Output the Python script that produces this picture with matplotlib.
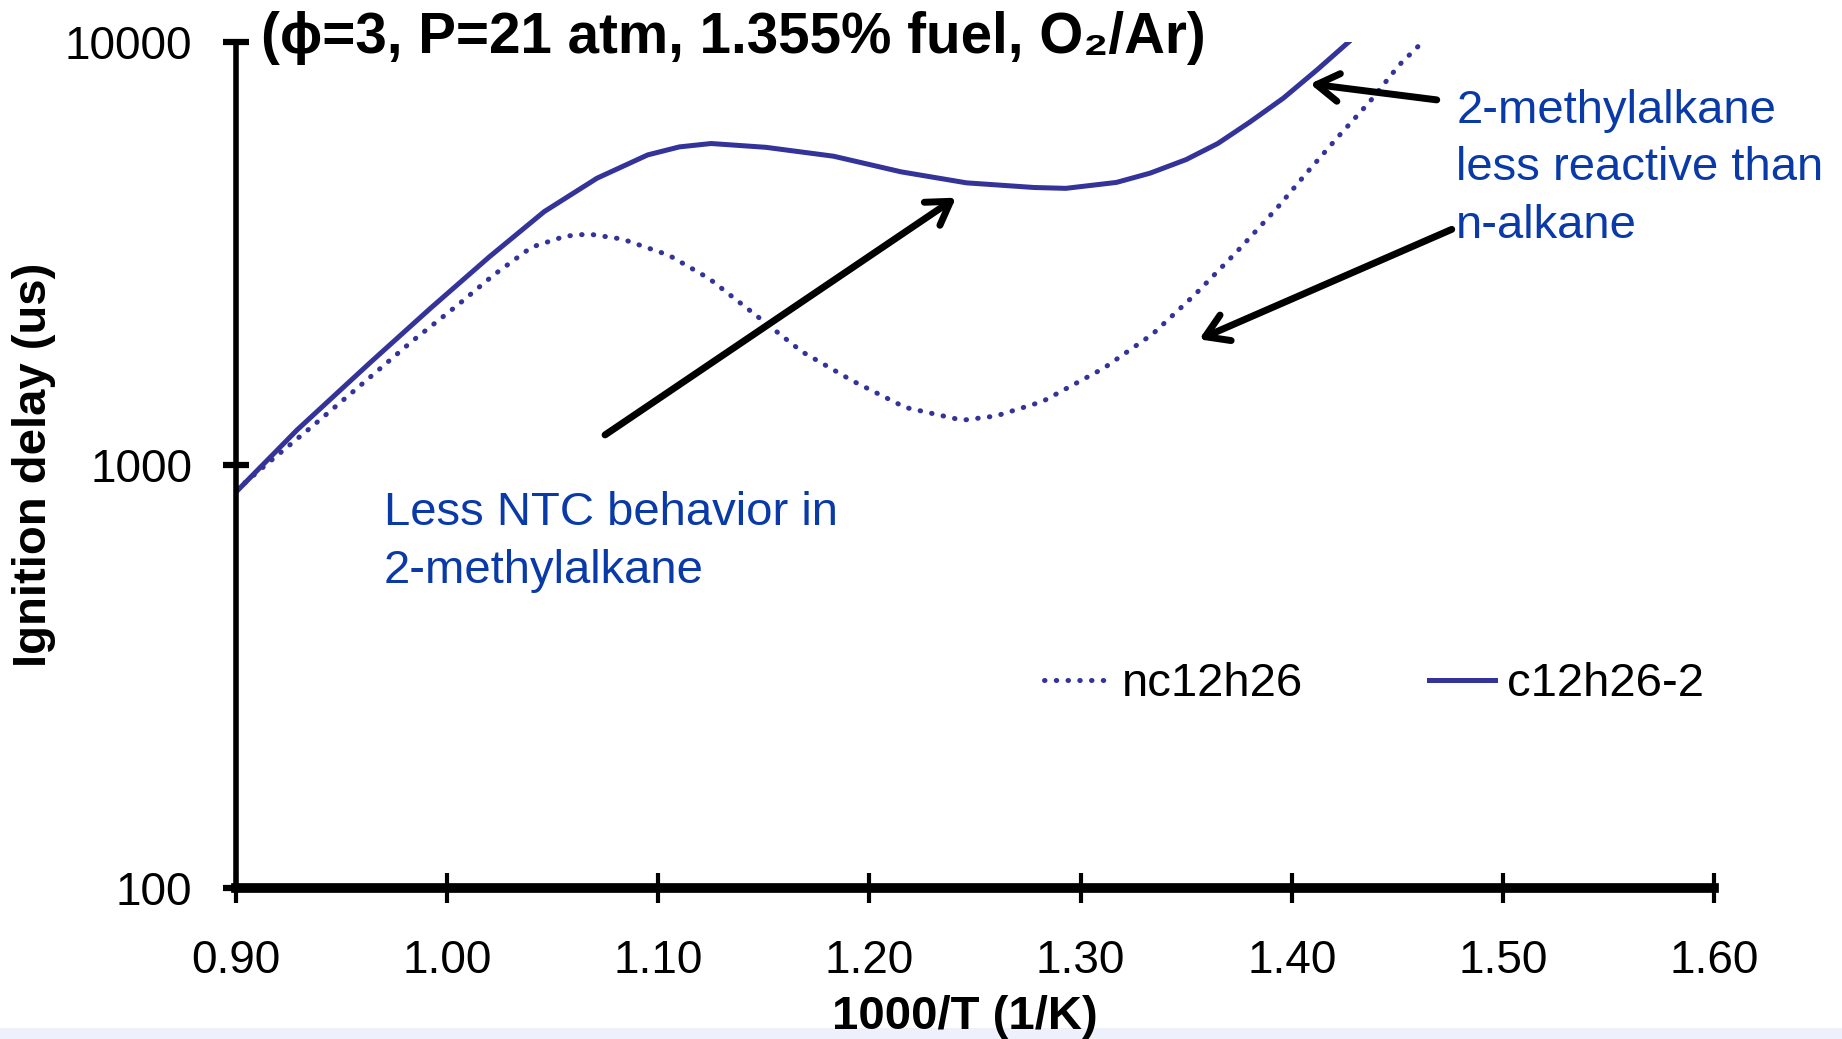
import numpy as np
import matplotlib
matplotlib.use('Agg')
import matplotlib.pyplot as plt
from matplotlib.patches import Rectangle
from matplotlib.ticker import NullLocator

plt.rcParams['font.family'] = ['Liberation Sans', 'DejaVu Sans']

# Data (1000/T in 1/K, ignition delay in us)
x_nc12 = [0.900, 0.915, 0.937, 0.962, 0.983, 1.005, 1.022, 1.040, 1.056, 1.067,
          1.083, 1.105, 1.124, 1.146, 1.168, 1.192, 1.217, 1.244, 1.260, 1.282,
          1.311, 1.334, 1.354, 1.374, 1.393, 1.407, 1.422, 1.437, 1.451, 1.462]
tau_nc12 = [871, 1009, 1245, 1589, 1954, 2388, 2812, 3273, 3475, 3516,
            3420, 3133, 2761, 2265, 1854, 1581, 1368, 1276, 1306, 1413,
            1694, 2037, 2523, 3192, 4046, 4898, 5970, 7228, 8831, 10000]

x_c12_2 = [0.900, 0.929, 0.964, 0.992, 1.020, 1.046, 1.071, 1.095, 1.110, 1.125,
           1.151, 1.183, 1.215, 1.246, 1.278, 1.293, 1.317, 1.333, 1.350, 1.365,
           1.380, 1.396, 1.412, 1.427]
tau_c12_2 = [863, 1211, 1754, 2344, 3105, 3972, 4764, 5408, 5649, 5754,
             5636, 5370, 4932, 4645, 4529, 4508, 4656, 4898, 5272, 5754,
             6457, 7362, 8590, 10000]

x_ticks = [0.90, 1.00, 1.10, 1.20, 1.30, 1.40, 1.50, 1.60]
y_ticks = [100, 1000, 10000]
y_tick_labels = ['100', '1000', '10000']

line_color = '#333399'
note_color = '#0a3aa8'

fig = plt.figure(figsize=(18.42, 10.39), dpi=100)
ax = fig.add_axes([0.1281, 0.1453, 0.8024, 0.8143])

ax.plot(x_nc12, tau_nc12, color=line_color, lw=3.6,
        linestyle=(0, (0.1, 2.25)), dash_capstyle='round', label='nc12h26')
ax.plot(x_c12_2, tau_c12_2, color=line_color, lw=3.6, label='c12h26-2')

ax.set_yscale('log')
ax.set_xlim(0.9, 1.6)
ax.set_ylim(100, 10000)
ax.set_xticks(x_ticks)
ax.set_xticklabels([f'{v:.2f}' for v in x_ticks])
ax.set_yticks(y_ticks)
ax.set_yticklabels(y_tick_labels)
ax.yaxis.set_minor_locator(NullLocator())

for side in ['top', 'right']:
    ax.spines[side].set_visible(False)
ax.spines['left'].set_linewidth(4)
ax.spines['bottom'].set_linewidth(7)

ax.tick_params(axis='x', direction='inout', length=21, width=3, pad=26, labelsize=33)
ax.tick_params(axis='y', direction='inout', length=19, width=4.5, pad=22, labelsize=33)

ax.set_xlabel('1000/T (1/K)', fontsize=34, fontweight='bold')
ax.xaxis.set_label_coords(0.493, -0.126)
ax.set_ylabel('Ignition delay (us)', fontsize=34, fontweight='bold')
ax.yaxis.set_label_coords(-0.122, 0.5)

fig.text(0.1417, 0.949, '(ϕ=3, P=21 atm, 1.355% fuel, O₂/Ar)',
         fontsize=40.7, fontweight='bold', ha='left', va='baseline')

ax.legend(loc='center left', bbox_to_anchor=(0.547, 0.241), ncol=2,
          frameon=False, fontsize=34, handlelength=1.4, handletextpad=0.25,
          columnspacing=2.65, borderpad=0, borderaxespad=0)

# annotations
arrow = dict(arrowstyle='->,head_length=0.8,head_width=0.5', lw=5,
             color='black', shrinkA=0, shrinkB=0, mutation_scale=20)
ax.annotate('', xy=(1.241, 4285), xytext=(1.0748, 1178), arrowprops=arrow)
ax.annotate('', xy=(1.4087, 7962), xytext=(1.4687, 7296), arrowprops=arrow)
ax.annotate('', xy=(1.3562, 1982), xytext=(1.4758, 3606), arrowprops=arrow)

ax.text(0.970, 658, 'Less NTC behavior in\n2-methylalkane', color=note_color,
        fontsize=34, ha='left', va='center', linespacing=1.42)
ax.text(1.478, 5030, '2-methylalkane\nless reactive than\nn-alkane', color=note_color,
        fontsize=34, ha='left', va='center', linespacing=1.4)

# light strip along the bottom edge
fig.add_artist(Rectangle((0, 0), 1, 11 / 1039, transform=fig.transFigure,
                         facecolor='#eef1fb', edgecolor='none', zorder=-1))

fig.savefig('out.png', dpi=100)
